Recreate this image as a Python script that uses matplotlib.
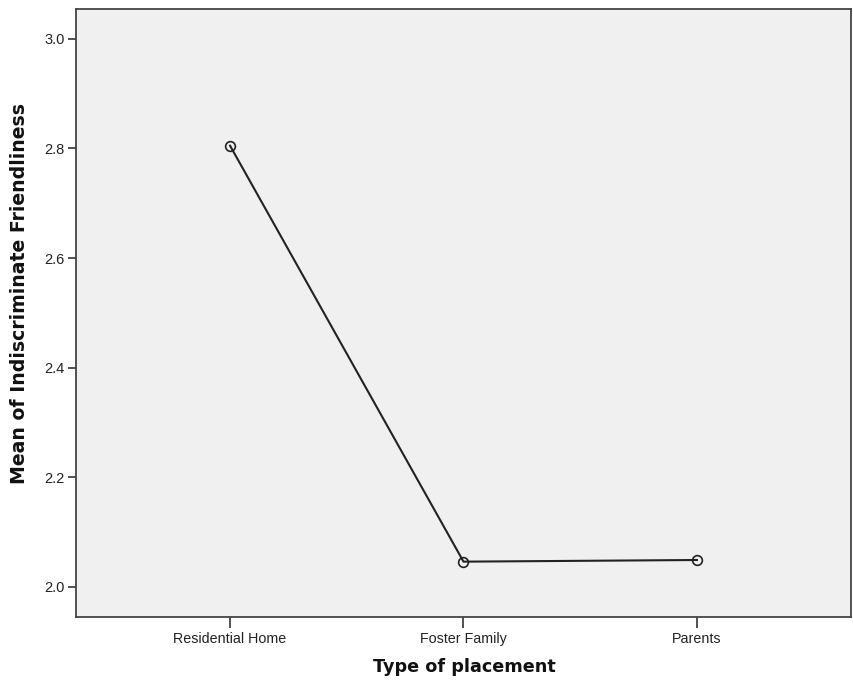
import matplotlib
matplotlib.use("Agg")
import matplotlib.pyplot as plt

categories = ["Residential Home", "Foster Family", "Parents"]
means = [2.805, 2.046, 2.049]
yticks = [2.0, 2.2, 2.4, 2.6, 2.8, 3.0]

plt.rcParams['font.family'] = ['Liberation Sans', 'DejaVu Sans']

fig = plt.figure(figsize=(8.54, 6.91), dpi=100)
ax = fig.add_axes([76/854, 1-617/691, (851-76)/854, (617-8.7)/691])
ax.set_facecolor('#f0f0f0')
x = list(range(len(categories)))
ax.plot(x, means, color='#222222', lw=1.5, marker='o', markersize=7,
        markerfacecolor='none', markeredgecolor='#222222', markeredgewidth=1.2)
ax.set_xlim(-0.66, 2.66)
ax.set_ylim(1.945, 3.055)
ax.set_xticks(x)
ax.set_xticklabels(categories, fontsize=10.3, color='#222222')
ax.set_yticks(yticks)
ax.set_yticklabels([f"{v:.1f}" for v in yticks], fontsize=10.5, color='#222222')
ax.tick_params(axis='x', direction='out', length=8, width=1.2, color='#333333', pad=3)
ax.tick_params(axis='y', direction='out', length=6, width=1.2, color='#333333', pad=2)
for s in ax.spines.values():
    s.set_color('#444444')
    s.set_linewidth(1.3)
ax.set_xlabel("Type of placement", fontsize=12.7, fontweight='bold', color='#111111',
              family=['DejaVu Sans'])
ax.set_ylabel("Mean of Indiscriminate Friendliness", fontsize=13.6, fontweight='bold', color='#111111',
              family=['DejaVu Sans'])
ax.xaxis.set_label_coords((464 - 76) / 775, -(667 - 617) / 608.3)
ax.yaxis.set_label_coords(-(76 - 20) / 775, (617 - 293) / 608.3)
ax.xaxis.label.set_va('center')
ax.yaxis.label.set_va('center')
fig.savefig("out.png", dpi=100)
